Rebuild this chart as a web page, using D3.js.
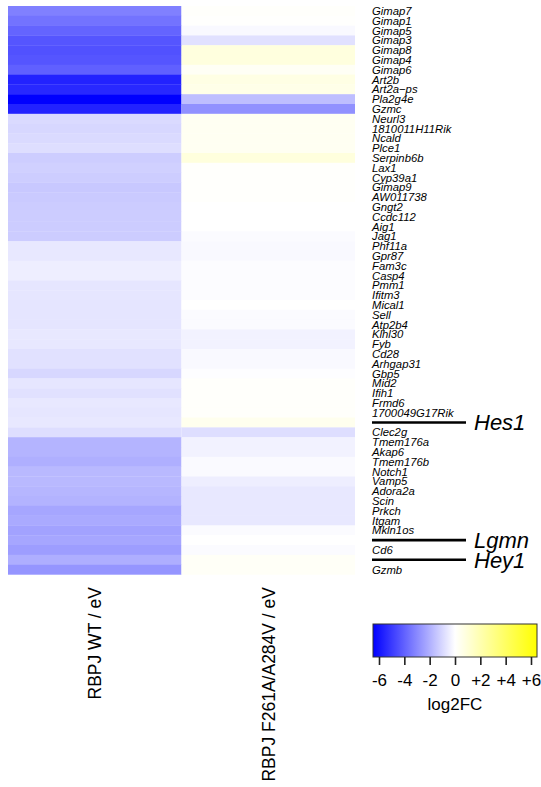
<!DOCTYPE html>
<html>
<head>
<meta charset="utf-8">
<script src="https://cdn.jsdelivr.net/npm/d3@7"></script>
<style>
  body { margin: 0; background: #fff; }
  svg { display: block; font-family: "Liberation Sans", Arial, sans-serif; }
</style>
</head>
<body>
<div id="heatmap"></div>
<script>
// samples (columns)
const samples = ['RBPJ WT / eV', 'RBPJ F261A/A284V / eV'];

// genes, top to bottom
const genes = ['Gimap7', 'Gimap1', 'Gimap5', 'Gimap3', 'Gimap8', 'Gimap4', 'Gimap6', 'Art2b', 'Art2a\u2212ps', 'Pla2g4e', 'Gzmc',
  'Neurl3', '1810011H11Rik', 'Ncald', 'Plce1', 'Serpinb6b', 'Lax1', 'Cyp39a1', 'Gimap9', 'AW011738', 'Gngt2', 'Ccdc112', 'Aig1',
  'Jag1', 'Phf11a', 'Gpr87', 'Fam3c', 'Casp4', 'Pmm1', 'Ifitm3', 'Mical1', 'Sell', 'Atp2b4', 'Klhl30', 'Fyb', 'Cd28', 'Arhgap31',
  'Gbp5', 'Mid2', 'Ifih1', 'Frmd6', '1700049G17Rik', 'Hes1',
  'Clec2g', 'Tmem176a', 'Akap6', 'Tmem176b', 'Notch1', 'Vamp5', 'Adora2a', 'Scin', 'Prkch', 'Itgam', 'Mkln1os', 'Lgmn',
  'Cd6', 'Hey1', 'Gzmb'];

// Notch targets get a line and a big label instead of a small one
const highlighted = ['Hes1', 'Lgmn', 'Hey1'];

// log2FC values
const wtValues = [-3.0, -3.3, -3.65, -4.0, -4.1, -4.0, -3.75, -5.2, -5.05, -6.0, -5.2,
  -0.87, -0.94, -0.87, -0.78, -1.18, -1.1, -1.18, -1.3, -1.25, -1.2, -1.2, -1.2, -1.2,
  -0.55, -0.55, -0.4, -0.4, -0.6, -0.6, -0.62, -0.62, -0.62, -0.55, -0.55, -0.7, -0.7, -0.95, -0.6,
  -0.7, -0.55, -0.6, -0.55,
  -0.78, -1.76, -1.76, -1.88, -1.65, -1.65, -1.72, -1.8, -2.1, -2.0, -2.2, -2.1, -2.3, -1.9, -2.5];

const mutValues = [0.1, 0.05, -0.15, -0.7, 0.78, 0.78, 0.24, 0.64, 0.55, -1.53, -2.6,
  0.3, 0.3, 0.3, 0.3, 0.8, 0.08, 0.08, 0.08, 0.08, 0, 0, 0, -0.1,
  -0.15, -0.15, -0.07, -0.07, -0.07, -0.07, 0, -0.1, -0.1, -0.3, -0.3, -0.15, -0.15, -0.05, 0.1,
  0.1, 0.1, 0.1, 0.4,
  -0.78, -0.3, -0.3, -0.12, -0.12, -0.4, -0.55, -0.55, -0.55, -0.55, -0.1, 0, -0.1, 0.2, 0.2];

// legend ticks
const legendTicks = [-6, -4, -2, 0, 2, 4, 6];

const width = 541;
const height = 787;

const svg = d3.select('#heatmap')
  .append('svg')
  .attr('width', width)
  .attr('height', height);

const x = d3.scaleBand().domain(samples).range([8, 355]);
const y = d3.scaleBand().domain(genes).range([6, 574.4]);

const color = d3.scaleLinear()
  .domain([-6, 0, 6])
  .range(['#0000ff', '#ffffff', '#ffff00'])
  .clamp(true);

const cells = [];
genes.forEach((g, i) => {
  cells.push({ gene: g, sample: samples[0], value: wtValues[i] });
  cells.push({ gene: g, sample: samples[1], value: mutValues[i] });
});

svg.append('g')
  .selectAll('rect')
  .data(cells)
  .enter()
  .append('rect')
  .attr('x', d => x(d.sample))
  .attr('y', d => y(d.gene))
  .attr('width', x.bandwidth())
  .attr('height', y.bandwidth() + 0.3)
  .attr('fill', d => color(d.value));

// gene labels
const labelX = 372;
svg.append('g')
  .selectAll('text')
  .data(genes.filter(g => !highlighted.includes(g)))
  .enter()
  .append('text')
  .attr('x', labelX)
  .attr('y', d => y(d) + y.bandwidth() / 2)
  .attr('dy', '0.36em')
  .style('font-size', '11.3px')
  .style('font-style', 'italic')
  .text(d => d);

// highlighted genes
const hl = svg.append('g')
  .selectAll('g')
  .data(highlighted)
  .enter()
  .append('g')
  .attr('transform', d => 'translate(0,' + (y(d) + y.bandwidth() / 2) + ')');

hl.append('line')
  .attr('x1', labelX)
  .attr('x2', 466)
  .attr('stroke', '#000')
  .attr('stroke-width', 2.6);

hl.append('text')
  .attr('x', 474)
  .attr('dy', '0.36em')
  .style('font-size', '22px')
  .style('font-style', 'italic')
  .text(d => d);

// column labels
svg.append('g')
  .selectAll('text')
  .data(samples)
  .enter()
  .append('text')
  .attr('transform', d => 'translate(' + (x(d) + x.bandwidth() / 2) + ',587) rotate(-90)')
  .attr('dy', '0.36em')
  .style('text-anchor', 'end')
  .style('font-size', '17.5px')
  .text(d => d);

// legend
const legendScale = d3.scaleLinear().domain([-6, 6]).range([379, 531]);

const defs = svg.append('defs');
const grad = defs.append('linearGradient')
  .attr('id', 'lfc')
  .attr('x1', '0%').attr('x2', '100%');
grad.selectAll('stop')
  .data(d3.range(-6, 6.01, 1))
  .enter()
  .append('stop')
  .attr('offset', d => ((d + 6) / 12 * 100) + '%')
  .attr('stop-color', d => color(d));

svg.append('rect')
  .attr('x', 373)
  .attr('y', 624)
  .attr('width', 164)
  .attr('height', 33)
  .attr('fill', 'url(#lfc)')
  .attr('stroke', '#333')
  .attr('stroke-width', 1);

const legendAxis = d3.axisBottom(legendScale)
  .tickValues(legendTicks)
  .tickSize(8)
  .tickPadding(9)
  .tickFormat(d => d > 0 ? '+' + d : d < 0 ? '-' + Math.abs(d) : '0');

const lg = svg.append('g')
  .attr('transform', 'translate(0,657)')
  .call(legendAxis);
lg.select('.domain').remove();
lg.selectAll('.tick line').attr('stroke', '#222').attr('stroke-width', 1.6);
lg.selectAll('.tick text')
  .attr('fill', '#000')
  .style('font-size', '17px')
  .style('font-family', '"Liberation Sans", Arial, sans-serif');

svg.append('text')
  .attr('x', 455)
  .attr('y', 710)
  .style('text-anchor', 'middle')
  .style('font-size', '17px')
  .text('log2FC');
</script>
</body>
</html>
